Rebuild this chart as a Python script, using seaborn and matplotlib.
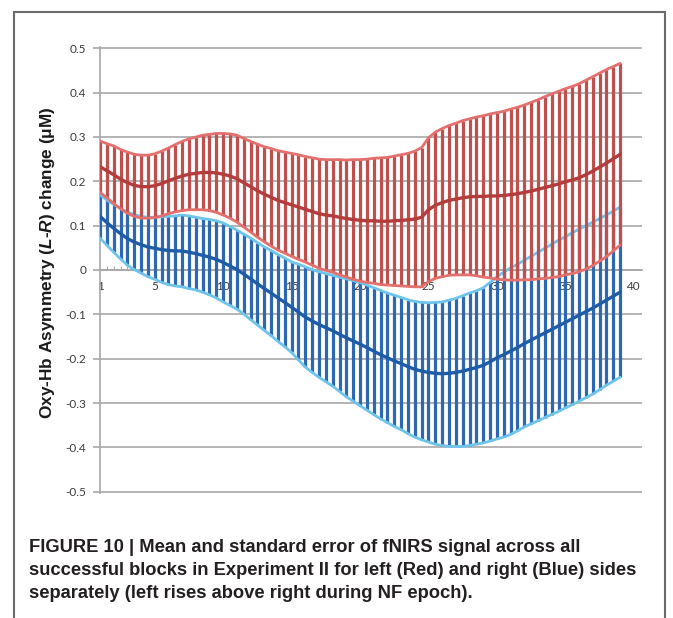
import numpy as np
import pandas as pd
import seaborn as sns
import matplotlib.pyplot as plt
from matplotlib.lines import Line2D

# blocks sampled every half step (1 .. 39)
blocks = np.arange(1, 39.01, 0.5)

# left side (red): mean and standard error
red_mean = [0.233, 0.224, 0.215, 0.205, 0.197, 0.191, 0.188, 0.188, 0.190, 0.195,
            0.201, 0.207, 0.212, 0.216, 0.218, 0.220, 0.220, 0.219, 0.216, 0.212,
            0.206, 0.197, 0.188, 0.179, 0.171, 0.164, 0.157, 0.152, 0.147, 0.142,
            0.137, 0.132, 0.127, 0.124, 0.122, 0.119, 0.116, 0.114, 0.112, 0.111,
            0.111, 0.110, 0.110, 0.111, 0.112, 0.113, 0.115, 0.119, 0.136, 0.146,
            0.152, 0.157, 0.160, 0.163, 0.165, 0.166, 0.166, 0.167, 0.167, 0.168,
            0.170, 0.172, 0.175, 0.178, 0.182, 0.186, 0.190, 0.194, 0.199, 0.203,
            0.208, 0.215, 0.223, 0.232, 0.241, 0.251, 0.261]
red_se = [0.058, 0.061, 0.065, 0.067, 0.069, 0.070, 0.071, 0.071, 0.072, 0.073,
          0.074, 0.076, 0.078, 0.080, 0.082, 0.084, 0.086, 0.089, 0.092, 0.095,
          0.098, 0.100, 0.102, 0.105, 0.107, 0.110, 0.112, 0.114, 0.116, 0.118,
          0.119, 0.121, 0.123, 0.125, 0.127, 0.130, 0.132, 0.135, 0.137, 0.139,
          0.141, 0.143, 0.144, 0.146, 0.148, 0.150, 0.153, 0.157, 0.162, 0.165,
          0.167, 0.169, 0.171, 0.174, 0.176, 0.179, 0.182, 0.185, 0.188, 0.190,
          0.193, 0.195, 0.197, 0.200, 0.202, 0.205, 0.207, 0.209, 0.210, 0.211,
          0.212, 0.213, 0.213, 0.212, 0.211, 0.208, 0.205]

# right side (blue): mean and standard error
blue_mean = [0.121, 0.107, 0.094, 0.082, 0.071, 0.063, 0.057, 0.052, 0.049, 0.046,
             0.044, 0.043, 0.043, 0.040, 0.037, 0.033, 0.029, 0.024, 0.017, 0.009,
             0.001, -0.009, -0.020, -0.031, -0.042, -0.052, -0.063, -0.073, -0.084, -0.095,
             -0.106, -0.115, -0.123, -0.130, -0.137, -0.145, -0.153, -0.160, -0.167, -0.175,
             -0.183, -0.191, -0.198, -0.205, -0.211, -0.218, -0.224, -0.228, -0.231, -0.233,
             -0.234, -0.233, -0.231, -0.228, -0.224, -0.220, -0.215, -0.207, -0.198, -0.191,
             -0.183, -0.175, -0.166, -0.158, -0.150, -0.142, -0.134, -0.126, -0.118, -0.110,
             -0.102, -0.094, -0.086, -0.077, -0.068, -0.059, -0.050]
blue_se = [0.049, 0.051, 0.054, 0.057, 0.060, 0.062, 0.064, 0.067, 0.070, 0.074,
           0.077, 0.079, 0.081, 0.082, 0.082, 0.083, 0.085, 0.087, 0.089, 0.089,
           0.089, 0.090, 0.092, 0.093, 0.094, 0.096, 0.098, 0.100, 0.102, 0.108,
           0.113, 0.116, 0.119, 0.122, 0.125, 0.129, 0.133, 0.136, 0.139, 0.141,
           0.143, 0.145, 0.146, 0.148, 0.149, 0.151, 0.153, 0.155, 0.157, 0.160,
           0.162, 0.165, 0.167, 0.170, 0.172, 0.173, 0.175, 0.179, 0.183, 0.186,
           0.188, 0.188, 0.188, 0.189, 0.190, 0.191, 0.192, 0.193, 0.193, 0.194,
           0.194, 0.194, 0.194, 0.193, 0.192, 0.192, 0.192]

x_ticks = [1, 5, 10, 15, 20, 25, 30, 35, 40]
y_ticks = [0.5, 0.4, 0.3, 0.2, 0.1, 0, -0.1, -0.2, -0.3, -0.4, -0.5]
y_tick_labels = ["0.5", "0.4", "0.3", "0.2", "0.1", "0", "-0.1", "-0.2", "-0.3", "-0.4", "-0.5"]

y_label = "Oxy-Hb Asymmetry ($\\mathit{L}$-$\\mathit{R}$) change (\u03bcM)"
caption_lines = ["FIGURE 10 | Mean and standard error of fNIRS signal across all",
                 "successful blocks in Experiment II for left (Red) and right (Blue) sides",
                 "separately (left rises above right during NF epoch)."]


def build_frame(mean, se):
    df = pd.DataFrame({"block": blocks, "mean": mean, "se": se})
    df["upper"] = df["mean"] + df["se"]
    df["lower"] = df["mean"] - df["se"]
    return df


def draw_side(ax, df, bar_color, edge_color, mean_color, z):
    ax.vlines(df["block"], df["lower"], df["upper"], color=bar_color, lw=2.3, zorder=z)
    for col in ["upper", "lower"]:
        sns.lineplot(data=df, x="block", y=col, color=edge_color, lw=2.0, ax=ax, zorder=z + 0.2)
    sns.lineplot(data=df, x="block", y="mean", color=mean_color, lw=2.4, ax=ax, zorder=z + 0.4)


def main():
    sns.set_style("white")
    plt.rcParams["font.family"] = ["Lato", "DejaVu Sans"]
    plt.rcParams["mathtext.fontset"] = "custom"
    plt.rcParams["mathtext.it"] = "Liberation Sans:italic:bold"
    plt.rcParams["mathtext.rm"] = "Liberation Sans:bold"

    fig = plt.figure(figsize=(6.73, 6.18), dpi=100)
    ax = fig.add_axes([100 / 673, 125 / 618, 542 / 673, 446 / 618])

    red = build_frame(red_mean, red_se)
    blue = build_frame(blue_mean, blue_se)

    draw_side(ax, blue, "#2F68B2", "#6EC4EA", "#1F5CA8", 2)
    draw_side(ax, red, "#C0504D", "#E4706E", "#B23D3C", 4)

    ax.set_xlim(1, 40.6)
    ax.set_ylim(-0.503, 0.503)
    ax.set_axisbelow(True)
    ax.yaxis.grid(True, color="#A8A8A8", lw=1.2)
    ax.xaxis.grid(False)

    for side in ["top", "right"]:
        ax.spines[side].set_visible(False)
    ax.spines["left"].set_color("#A8A8A8")
    ax.spines["left"].set_linewidth(1.2)
    ax.spines["bottom"].set_position(("data", 0))
    ax.spines["bottom"].set_color("#A8A8A8")
    ax.spines["bottom"].set_linewidth(1.2)
    for sp in ax.spines.values():
        sp.set_zorder(0.6)

    ax.set_yticks(y_ticks)
    ax.set_yticklabels(y_tick_labels)
    ax.set_xticks(x_ticks)
    ax.set_xticklabels([str(t) for t in x_ticks])
    ax.set_xticks(blocks, minor=True)
    ax.tick_params(axis="y", length=5, width=1.2, color="#A8A8A8", labelsize=8.5,
                   labelcolor="#3A3A3A", pad=5, left=True)
    ax.tick_params(axis="x", which="major", length=0, labelsize=8.5, labelcolor="#3A3A3A", pad=8)
    ax.tick_params(axis="x", which="minor", direction="in", length=3, width=0.8,
                   color="#A8A8A8", bottom=True)

    ax.set_xlabel("")
    ax.set_ylabel(y_label, fontsize=12.4, fontweight="bold", family="Liberation Sans",
                  color="#1A1A1A")
    ax.yaxis.set_label_coords(-0.08, 0.517)

    # outer frame of the figure panel
    fc = "#6A6A6A"
    fig.add_artist(Line2D([14 / 673, 14 / 673], [0, 1 - 12 / 618], color=fc, lw=1.5))
    fig.add_artist(Line2D([665 / 673, 665 / 673], [0, 1 - 12 / 618], color=fc, lw=1.5))
    fig.add_artist(Line2D([14 / 673, 665 / 673], [1 - 12 / 618, 1 - 12 / 618], color=fc, lw=1.5))

    baselines = [552, 575, 598]
    for line, yb in zip(caption_lines, baselines):
        fig.text(29 / 673, 1 - yb / 618, line, ha="left", va="baseline", fontsize=13.2,
                 fontweight="bold", family="Liberation Sans", color="#231F20")

    fig.savefig("out.png", dpi=100)
    plt.close(fig)


if __name__ == "__main__":
    main()
